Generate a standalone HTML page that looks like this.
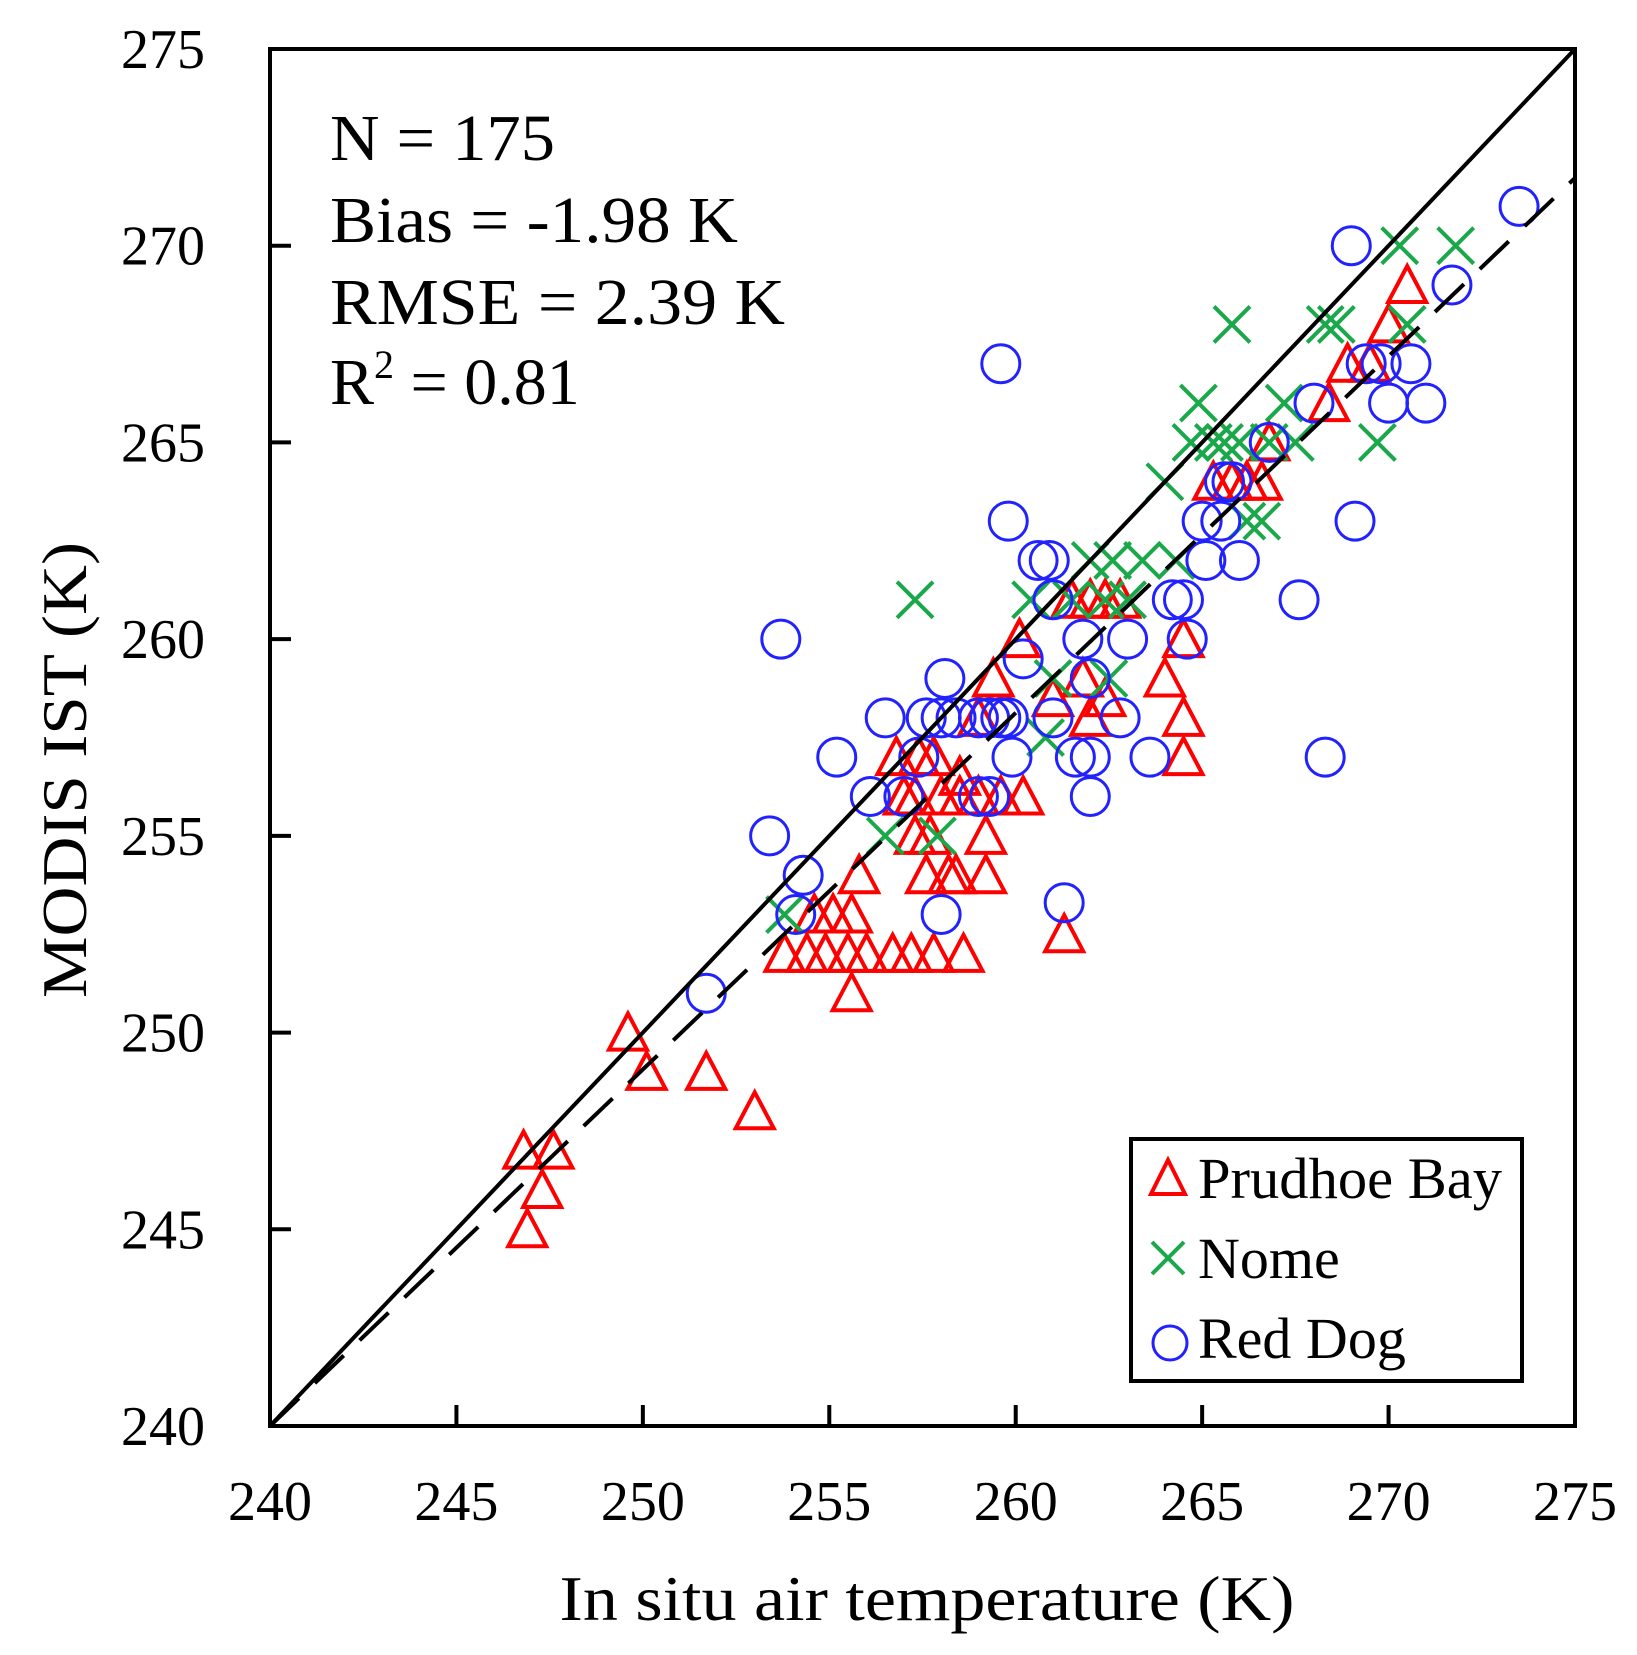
<!DOCTYPE html>
<html><head><meta charset="utf-8"><style>html,body{margin:0;padding:0;background:#fff}svg{display:block}</style></head>
<body>
<svg id="s" width="1637" height="1655" viewBox="0 0 1637 1655" xmlns="http://www.w3.org/2000/svg" font-family="'Liberation Serif', serif">
<rect width="1637" height="1655" fill="#fff"/>
<g id="pts"></g>
<line x1="270" y1="1426" x2="1575" y2="49" stroke="#000" stroke-width="4"/>
<line x1="270" y1="1426" x2="1575" y2="178" stroke="#000" stroke-width="4" stroke-dasharray="40,22"/>
<rect x="270" y="49" width="1305" height="1377" fill="none" stroke="#000" stroke-width="4"/>
<g id="ticks" stroke="#000" stroke-width="4"></g>
<g id="labels" font-size="56" fill="#000"></g>
<g font-size="66" fill="#000">
<text x="330" y="160" textLength="225" lengthAdjust="spacingAndGlyphs">N = 175</text>
<text x="330" y="242" textLength="408" lengthAdjust="spacingAndGlyphs">Bias = -1.98 K</text>
<text x="330" y="324" textLength="455" lengthAdjust="spacingAndGlyphs">RMSE = 2.39 K</text>
<text x="330" y="404">R<tspan font-size="40" dy="-26">2</tspan><tspan dy="26"> = 0.81</tspan></text>
</g>
<text x="927" y="1620" font-size="64" text-anchor="middle" textLength="735" lengthAdjust="spacingAndGlyphs">In situ air temperature (K)</text>
<text transform="translate(86,770) rotate(-90)" font-size="64" text-anchor="middle" textLength="456" lengthAdjust="spacingAndGlyphs">MODIS IST (K)</text>
<rect x="1131" y="1139" width="391" height="242" fill="#fff" stroke="#000" stroke-width="4"/>
<polygon points="1168,1160 1185,1194 1151,1194" fill="none" stroke="#f00" stroke-width="4"/>
<path d="M1152,1242 L1184,1274 M1184,1242 L1152,1274" stroke="#1aa84a" stroke-width="4"/>
<circle cx="1170" cy="1343" r="17" fill="none" stroke="#22f" stroke-width="3"/>
<g font-size="58" fill="#000">
<text x="1198" y="1198" textLength="304" lengthAdjust="spacingAndGlyphs">Prudhoe Bay</text>
<text x="1198" y="1278">Nome</text>
<text x="1198" y="1358">Red Dog</text>
</g>
</svg>
<script>
const X=v=>270+(v-240)*1305/35, Y=v=>1426-(v-240)*1377/35;
const NS="http://www.w3.org/2000/svg";
const g=document.getElementById('pts');
function el(t,a){const e=document.createElementNS(NS,t);for(const k in a)e.setAttribute(k,a[k]);g.appendChild(e);}
const tri=[[246.8,247],[247.6,247],[247.3,246],[246.9,245],[249.6,250],[250.1,249],[251.7,249],[253.0,248],[253.8,252],[254.4,252],[254.9,252],[254.6,253],[255.1,253],[255.6,253],[255.8,254],[255.5,252],[256.0,252],[255.6,251],[256.7,252],[257.2,252],[257.8,252],[258.6,252],[257.6,254],[258.2,254],[258.4,254],[259.2,254],[259.2,255],[257.3,255],[257.7,255],[257.0,256],[257.3,256],[258.0,256],[258.5,256],[259.0,256],[259.6,256],[260.2,256],[256.8,257],[257.4,257],[257.8,257],[259.0,258],[259.4,259],[260.1,260],[261.3,252.5],[261.5,261],[262.0,261],[262.4,261],[262.8,261],[261.8,259],[262.0,258],[264.0,259],[264.5,260],[264.5,258],[264.5,257],[265.3,264],[265.8,264],[266.2,264],[266.6,264],[266.8,265],[268.4,266],[268.9,267],[269.5,267],[270.0,268],[270.5,269],[262.4,258.5],[261.0,258.5],[258.5,256.5]];
const crs=[[253.8,253],[256.5,255],[257.3,261],[257.9,255],[260.4,261],[260.8,257.5],[261.0,259],[261.5,261],[262.0,262],[262.4,261],[262.6,262],[263.0,261],[263.4,262],[264.0,264],[264.3,262],[264.7,265],[264.9,266],[265.3,265],[265.6,265],[266.0,265],[265.8,268],[266.2,263],[266.6,263],[266.8,265],[267.2,266],[267.5,265],[268.3,268],[268.6,268],[269.7,265],[270.3,270],[270.5,268],[271.8,270],[262.5,259]];
const cir=[[253.4,255],[253.7,260],[254.1,253],[254.3,254],[251.7,251],[255.2,257],[256.1,256],[256.5,258],[257.0,256],[257.4,257],[257.6,258],[258.0,258],[258.1,259],[258.0,253],[258.4,258],[259.0,258],[259.3,258],[259.6,258],[259.8,258],[259.0,256],[259.3,256],[259.6,267],[259.8,263],[259.9,257],[260.2,259.5],[260.6,262],[260.9,262],[261.0,258],[261.0,261],[261.3,253.3],[261.6,257],[261.8,260],[262.0,259],[262.0,256],[262.0,257],[262.8,258],[263.0,260],[263.6,257],[264.2,261],[264.5,261],[264.6,260],[265.0,263],[265.1,262],[265.5,263],[265.6,264],[265.8,264],[266.0,262],[266.8,265],[267.6,261],[268.0,266],[268.3,257],[269.0,270],[269.1,263],[269.4,267],[269.8,267],[270.0,266],[270.6,267],[271.0,266],[271.7,269],[273.5,271]];
tri.forEach(([a,b])=>{const x=X(a),y=Y(b);el('polygon',{points:`${x},${y-19} ${x+19},${y+17} ${x-19},${y+17}`,fill:'none',stroke:'#f00','stroke-width':4});});
crs.forEach(([a,b])=>{const x=X(a),y=Y(b);el('path',{d:`M${x-18},${y-18}L${x+18},${y+18}M${x+18},${y-18}L${x-18},${y+18}`,stroke:'#1aa84a','stroke-width':4});});
cir.forEach(([a,b])=>{el('circle',{cx:X(a),cy:Y(b),r:19,fill:'none',stroke:'#22f','stroke-width':3});});
const t=document.getElementById('ticks'),L=document.getElementById('labels');
for(let v=240;v<=275;v+=5){
 const x=X(v),y=Y(v);
 if(v>240&&v<275){let l=document.createElementNS(NS,'line');l.setAttribute('x1',x);l.setAttribute('x2',x);l.setAttribute('y1',1426);l.setAttribute('y2',1405);t.appendChild(l);
 l=document.createElementNS(NS,'line');l.setAttribute('x1',270);l.setAttribute('x2',291);l.setAttribute('y1',y);l.setAttribute('y2',y);t.appendChild(l);}
 let s=document.createElementNS(NS,'text');s.setAttribute('x',x);s.setAttribute('y',1520);s.setAttribute('text-anchor','middle');s.textContent=v;L.appendChild(s);
 s=document.createElementNS(NS,'text');s.setAttribute('x',205);s.setAttribute('y',y+19);s.setAttribute('text-anchor','end');s.textContent=v;L.appendChild(s);
}
</script>
</body></html>
